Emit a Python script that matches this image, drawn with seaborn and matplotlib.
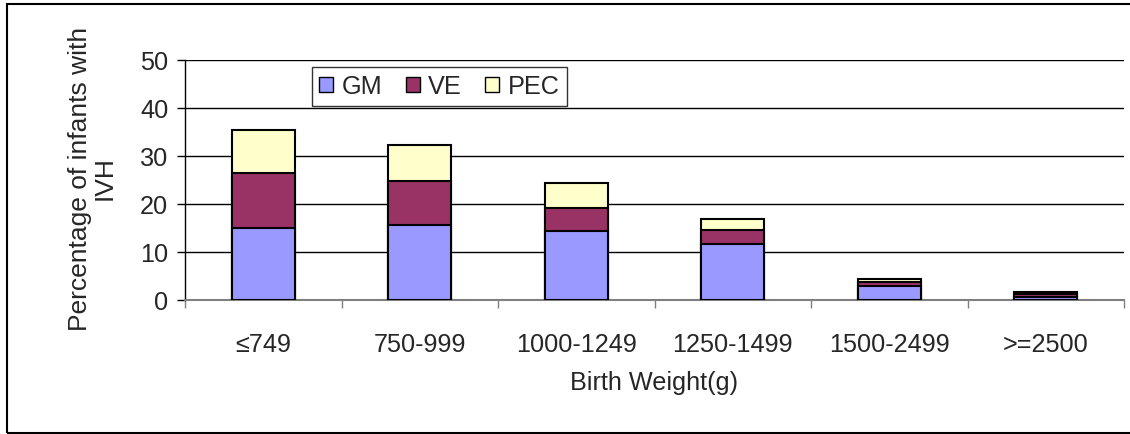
import matplotlib
matplotlib.use("Agg")
import matplotlib.pyplot as plt
import matplotlib.patches as mpatches
import seaborn as sns
import numpy as np
import pandas as pd

categories = ["\u2264749", "750-999", "1000-1249", "1250-1499", "1500-2499", ">=2500"]
gm = [15.0, 15.7, 14.3, 11.7, 3.0, 0.7]
ve = [11.5, 9.1, 4.8, 2.8, 0.75, 0.6]
pec = [8.8, 7.5, 5.2, 2.3, 0.6, 0.4]
series_names = ["GM", "VE", "PEC"]
colors = {"GM": "#9999FF", "VE": "#993366", "PEC": "#FFFFCC"}
y_ticks = [0, 10, 20, 30, 40, 50]

sns.set_theme(style="white")
plt.rcParams["font.family"] = ["Liberation Sans", "DejaVu Sans"]

FS = 18.2
fig = plt.figure(figsize=(11.3, 4.35), dpi=100)
W, H = 1130, 435
ax = fig.add_axes([185 / W, 1 - 301 / H, (1124 - 185) / W, (301 - 60.7) / H])

df = pd.DataFrame({"cat": categories, "GM": gm, "VE": ve, "PEC": pec})
df["c_gm"] = df["GM"]
df["c_ve"] = df["GM"] + df["VE"]
df["c_pec"] = df["GM"] + df["VE"] + df["PEC"]

for col, name in [("c_pec", "PEC"), ("c_ve", "VE"), ("c_gm", "GM")]:
    sns.barplot(data=df, x="cat", y=col, order=categories, color=colors[name],
                saturation=1, width=0.4, edgecolor="black", linewidth=1.5,
                errorbar=None, ax=ax, zorder=3)

ax.set_xlim(-0.5, len(categories) - 0.5)
ax.set_ylim(0, 50)
ax.set_yticks(y_ticks)
ax.set_yticklabels([str(t) for t in y_ticks], fontsize=FS)
ax.yaxis.grid(True, color="black", linewidth=1.0)
ax.set_axisbelow(True)

ax.set_xticks(range(len(categories)))
ax.set_xticklabels(categories, fontsize=FS)
ax.set_xticks(np.arange(-0.5, len(categories), 1.0), minor=True)
ax.tick_params(axis="x", which="major", length=0, pad=23)
ax.tick_params(axis="x", which="minor", length=6, width=1, color="#808080", direction="out", bottom=True)
ax.tick_params(axis="y", which="major", length=6, width=1, color="black", direction="out", left=True, pad=6)

for s in ["top", "right"]:
    ax.spines[s].set_visible(False)
ax.spines["left"].set_color("black")
ax.spines["left"].set_linewidth(1)
ax.spines["bottom"].set_color("#808080")
ax.spines["bottom"].set_linewidth(1.5)

ax.set_xlabel("Birth Weight(g)", fontsize=FS)
ax.xaxis.set_label_coords(0.5, -0.34)
ax.xaxis.label.set_va("center")
ax.set_ylabel("Percentage of infants with\nIVH", fontsize=19, multialignment="center",
              linespacing=1.05)
ax.yaxis.set_label_coords((92 - 185) / 939, 0.51)
ax.yaxis.label.set_va("center")

handles = [mpatches.Patch(facecolor=colors[n], edgecolor="black", linewidth=1, label=n) for n in series_names]
leg = ax.legend(handles=handles, ncol=3, loc="upper left", bbox_to_anchor=(0.135, 0.97),
                fontsize=FS, frameon=True, fancybox=False, handlelength=0.55, handleheight=0.55,
                handletextpad=0.35, columnspacing=0.9, borderpad=0.3, borderaxespad=0)
leg.get_frame().set_edgecolor("black")
leg.get_frame().set_linewidth(1)
leg.set_zorder(5)

border = mpatches.Rectangle((7 / W, 1 - 434 / H), 1.2, (434 - 5) / H, transform=fig.transFigure,
                            fill=False, edgecolor="black", linewidth=1.5)
fig.add_artist(border)

fig.savefig("out.png", dpi=100)
